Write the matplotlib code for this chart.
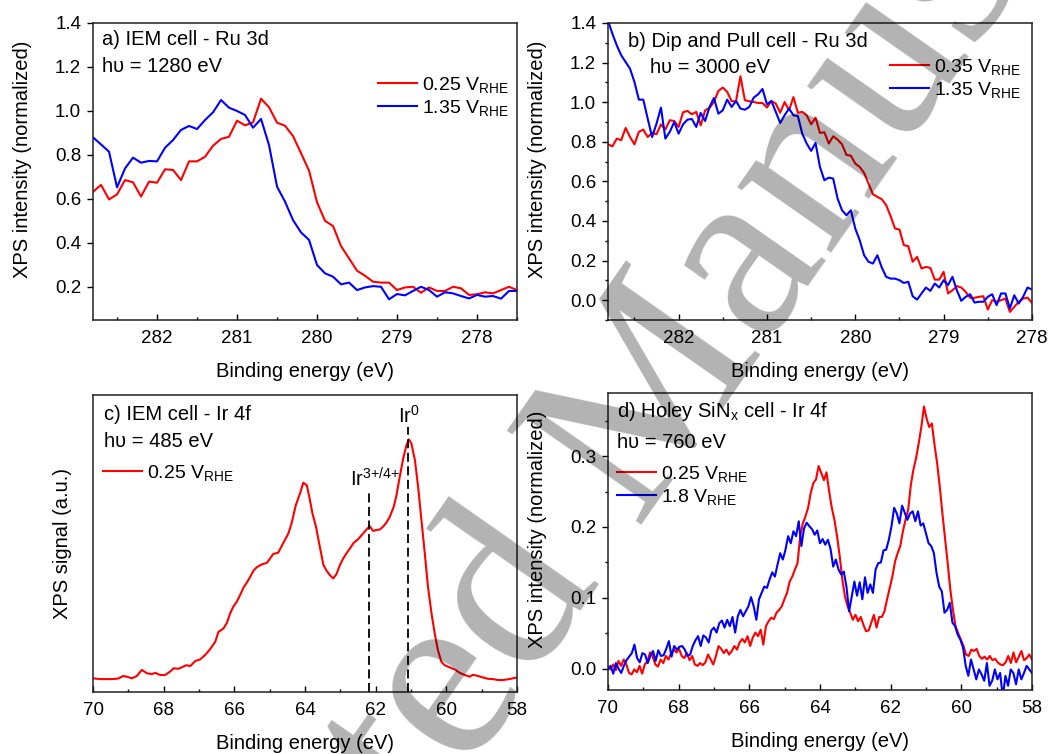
import numpy as np
import matplotlib
matplotlib.use("Agg")
import matplotlib.pyplot as plt
from matplotlib.ticker import MultipleLocator, FormatStrFormatter, NullLocator

plt.rcParams["font.family"] = ["Liberation Sans", "DejaVu Sans"]
plt.rcParams["mathtext.fontset"] = "custom"
plt.rcParams["mathtext.rm"] = "Liberation Sans"
plt.rcParams["mathtext.it"] = "Liberation Sans:italic"
plt.rcParams["mathtext.bf"] = "Liberation Sans:bold"

RED, BLUE = "#ff0000", "#0000ff"

# ---------------- data ----------------
# a) IEM cell - Ru 3d, 282.8 -> 277.5 eV, 0.1 eV steps
A_RANGE = (282.8, 277.5)
a_red = [0.633, 0.664, 0.598, 0.621, 0.686, 0.676, 0.611, 0.679, 0.674, 0.735,
         0.732, 0.686, 0.771, 0.771, 0.792, 0.842, 0.873, 0.883, 0.956, 0.935,
         0.948, 1.056, 1.017, 0.947, 0.933, 0.886, 0.808, 0.729, 0.585, 0.501,
         0.477, 0.386, 0.330, 0.274, 0.251, 0.224, 0.220, 0.220, 0.186, 0.198,
         0.201, 0.174, 0.198, 0.182, 0.182, 0.201, 0.194, 0.164, 0.167, 0.176,
         0.171, 0.186, 0.201, 0.186]
a_blue = [0.880, 0.848, 0.815, 0.653, 0.739, 0.788, 0.765, 0.773, 0.771, 0.833,
          0.868, 0.914, 0.932, 0.918, 0.959, 0.994, 1.050, 1.015, 1.000, 0.982,
          0.924, 0.964, 0.845, 0.656, 0.588, 0.504, 0.448, 0.414, 0.300, 0.262,
          0.247, 0.212, 0.220, 0.186, 0.198, 0.204, 0.201, 0.144, 0.168, 0.162,
          0.182, 0.201, 0.186, 0.156, 0.176, 0.171, 0.159, 0.148, 0.164, 0.156,
          0.159, 0.147, 0.182, 0.182]

# b) Dip and Pull cell - Ru 3d, 282.8 -> 278.0 eV, 0.05 eV steps
B_RANGE = (282.8, 278.0)
b_red = [0.787, 0.777, 0.816, 0.808, 0.870, 0.824, 0.787, 0.850, 0.862, 0.824,
         0.845, 0.838, 0.888, 0.862, 0.909, 0.905, 0.875, 0.949, 0.956, 0.939,
         0.951, 0.883, 0.959, 0.971, 1.001, 1.057, 1.074, 1.052, 1.005, 1.005,
         1.131, 1.010, 1.005, 1.001, 0.996, 0.996, 0.973, 1.006, 0.993, 0.947,
         1.001, 0.959, 1.026, 0.947, 0.951, 0.934, 0.888, 0.922, 0.845, 0.848,
         0.791, 0.828, 0.811, 0.787, 0.734, 0.730, 0.690, 0.673, 0.643, 0.589,
         0.535, 0.522, 0.510, 0.480, 0.424, 0.362, 0.357, 0.278, 0.273, 0.194,
         0.219, 0.160, 0.168, 0.163, 0.104, 0.104, 0.143, 0.034, 0.050, 0.071,
         0.064, 0.042, 0.012, 0.012, 0.017, 0.020, -0.047, 0.000, -0.008, 0.000,
         0.008, -0.059, -0.034, -0.008, 0.008, 0.013, -0.013]
b_blue = [1.413, 1.346, 1.287, 1.237, 1.203, 1.169, 1.102, 1.013, 1.013, 0.917,
          0.824, 0.892, 0.973, 0.816, 0.850, 0.900, 0.841, 0.888, 0.912, 0.915,
          0.875, 0.946, 0.905, 0.976, 1.021, 0.942, 0.959, 1.013, 0.976, 1.006,
          0.968, 0.962, 0.976, 1.023, 1.040, 1.067, 0.989, 1.006, 0.951, 0.895,
          0.934, 0.968, 0.934, 0.930, 0.841, 0.791, 0.754, 0.794, 0.673, 0.606,
          0.619, 0.614, 0.513, 0.454, 0.429, 0.454, 0.362, 0.303, 0.227, 0.194,
          0.185, 0.227, 0.165, 0.118, 0.109, 0.109, 0.101, 0.087, 0.093, 0.020,
          0.003, 0.034, 0.064, 0.047, 0.084, 0.064, 0.101, 0.076, 0.118, 0.050,
          -0.003, 0.017, 0.030, -0.012, -0.008, -0.008, 0.017, 0.030, -0.025, 0.034,
          0.034, -0.042, 0.025, -0.017, 0.017, 0.064, 0.054]

# c) IEM cell - Ir 4f (arbitrary units, baseline 0, Ir0 peak 1)
c_energy = [70.00, 69.79, 69.60, 69.42, 69.27, 69.15, 69.04, 68.90, 68.76, 68.62,
            68.47, 68.33, 68.24, 68.10, 67.96, 67.82, 67.72, 67.58, 67.49, 67.36,
            67.25, 67.11, 66.97, 66.83, 66.69, 66.54, 66.45, 66.31, 66.21, 66.12,
            66.03, 65.93, 65.84, 65.74, 65.65, 65.56, 65.46, 65.37, 65.23, 65.08,
            64.99, 64.90, 64.76, 64.66, 64.57, 64.47, 64.38, 64.26, 64.14, 64.05,
            63.95, 63.88, 63.79, 63.69, 63.60, 63.48, 63.39, 63.30, 63.20, 63.11,
            63.01, 62.92, 62.83, 62.73, 62.62, 62.50, 62.37, 62.26, 62.17, 62.07,
            61.98, 61.88, 61.79, 61.70, 61.60, 61.49, 61.41, 61.32, 61.22, 61.13,
            61.06, 60.99, 60.89, 60.80, 60.71, 60.61, 60.52, 60.42, 60.33, 60.24,
            60.14, 60.05, 59.91, 59.76, 59.62, 59.48, 59.34, 59.25, 59.11, 58.97,
            58.82, 58.68, 58.54, 58.40, 58.26, 58.12, 58.00]
c_red = [0.003, 0.000, 0.000, 0.000, 0.003, 0.013, 0.010, 0.003, 0.013, 0.038,
         0.024, 0.021, 0.026, 0.017, 0.017, 0.031, 0.045, 0.043, 0.049, 0.058,
         0.054, 0.075, 0.082, 0.100, 0.124, 0.156, 0.197, 0.211, 0.235, 0.274,
         0.302, 0.323, 0.350, 0.382, 0.402, 0.424, 0.452, 0.466, 0.478, 0.485,
         0.503, 0.522, 0.527, 0.555, 0.580, 0.608, 0.650, 0.726, 0.775, 0.819,
         0.809, 0.761, 0.691, 0.636, 0.566, 0.476, 0.452, 0.434, 0.420, 0.438,
         0.476, 0.503, 0.524, 0.545, 0.569, 0.583, 0.605, 0.624, 0.638, 0.618,
         0.622, 0.624, 0.636, 0.652, 0.677, 0.719, 0.768, 0.844, 0.921, 0.976,
         1.000, 0.983, 0.914, 0.803, 0.670, 0.524, 0.385, 0.274, 0.191, 0.121,
         0.072, 0.058, 0.049, 0.040, 0.026, 0.017, 0.010, 0.018, 0.013, 0.007,
         0.001, 0.000, -0.004, -0.004, -0.001, 0.003, 0.007]
IR_LINES = [62.18, 61.08]          # Ir3+/4+ and Ir0 positions (eV)
IR_TOPS = [0.789, 1.053]
IR_LABELS = ["Ir$^{\\mathregular{3{+}/4{+}}}$", "Ir$^{\\mathregular{0}}$"]
IR_LABEL_X = [62.02, 61.06]
IR_LABEL_Y = [0.805, 1.068]

# d) Holey SiNx cell - Ir 4f, 70 -> 58 eV
D_RANGE = (70.0, 58.0)
d_red = [0.003, -0.001, 0.006, -0.002, 0.011, 0.004, 0.013, 0.006, -0.006, -0.008,
         -0.001, -0.005, 0.004, -0.007, 0.006, 0.011, 0.023, 0.017, 0.006, 0.003,
         0.013, 0.008, 0.018, 0.013, 0.022, 0.027, 0.023, 0.028, 0.018, 0.015,
         0.022, 0.012, 0.018, 0.006, 0.004, 0.008, 0.005, 0.009, 0.020, 0.013,
         0.006, 0.018, 0.032, 0.028, 0.022, 0.027, 0.020, 0.025, 0.032, 0.027,
         0.037, 0.042, 0.037, 0.046, 0.032, 0.044, 0.051, 0.046, 0.055, 0.034,
         0.060, 0.067, 0.072, 0.070, 0.079, 0.083, 0.088, 0.098, 0.107, 0.123,
         0.130, 0.140, 0.149, 0.187, 0.205, 0.215, 0.227, 0.248, 0.262, 0.267,
         0.286, 0.276, 0.266, 0.277, 0.250, 0.227, 0.210, 0.187, 0.159, 0.126,
         0.102, 0.088, 0.079, 0.069, 0.076, 0.067, 0.073, 0.062, 0.053, 0.054,
         0.065, 0.076, 0.058, 0.073, 0.073, 0.081, 0.098, 0.114, 0.130, 0.151,
         0.163, 0.173, 0.194, 0.210, 0.224, 0.259, 0.281, 0.297, 0.318, 0.341,
         0.370, 0.353, 0.341, 0.346, 0.316, 0.290, 0.257, 0.219, 0.184, 0.149,
         0.112, 0.083, 0.060, 0.050, 0.041, 0.032, 0.020, 0.018, 0.027, 0.025,
         0.028, 0.018, 0.014, 0.017, 0.013, 0.018, 0.012, 0.014, 0.009, 0.006,
         0.005, 0.009, 0.018, 0.008, 0.023, 0.009, 0.017, 0.025, 0.012, 0.015,
         0.020, 0.013]
d_blue = [-0.001, 0.004, -0.007, 0.008, 0.000, -0.006, 0.004, 0.012, 0.017, 0.022,
          0.034, 0.015, 0.009, 0.022, 0.020, 0.008, 0.018, 0.025, 0.011, 0.026,
          0.018, 0.019, 0.028, 0.039, 0.017, 0.032, 0.027, 0.031, 0.032, 0.027,
          0.018, 0.020, 0.032, 0.040, 0.046, 0.032, 0.047, 0.044, 0.037, 0.054,
          0.058, 0.051, 0.064, 0.068, 0.058, 0.069, 0.060, 0.073, 0.051, 0.074,
          0.083, 0.074, 0.081, 0.088, 0.101, 0.088, 0.069, 0.098, 0.107, 0.116,
          0.114, 0.126, 0.136, 0.130, 0.147, 0.163, 0.154, 0.168, 0.187, 0.177,
          0.194, 0.187, 0.208, 0.173, 0.198, 0.206, 0.201, 0.197, 0.189, 0.195,
          0.177, 0.183, 0.175, 0.182, 0.169, 0.144, 0.154, 0.140, 0.133, 0.137,
          0.116, 0.081, 0.102, 0.123, 0.103, 0.122, 0.098, 0.129, 0.107, 0.119,
          0.107, 0.140, 0.149, 0.150, 0.167, 0.168, 0.182, 0.201, 0.227, 0.219,
          0.205, 0.230, 0.220, 0.210, 0.219, 0.222, 0.208, 0.222, 0.202, 0.205,
          0.191, 0.177, 0.173, 0.163, 0.135, 0.116, 0.109, 0.079, 0.083, 0.093,
          0.065, 0.060, 0.048, 0.041, 0.030, 0.004, -0.010, 0.013, -0.001, -0.015,
          -0.001, -0.008, -0.017, 0.008, -0.024, -0.017, -0.001, -0.015, -0.006, -0.040,
          -0.010, -0.024, -0.001, -0.006, -0.022, -0.001, -0.015, -0.006, 0.004, -0.001,
          -0.006]

LABEL_FS = 14.5
TICK_FS = 13.5


# ---------------- helpers ----------------
def style(ax, xlim, ylim, xmaj, xmin, ymaj=None, ymin=None, yfmt="%.1f"):
    ax.set_xlim(*xlim); ax.set_ylim(*ylim)
    ax.xaxis.set_major_locator(MultipleLocator(xmaj))
    ax.xaxis.set_minor_locator(MultipleLocator(xmin))
    ax.xaxis.set_major_formatter(FormatStrFormatter("%d"))
    ax.tick_params(axis="x", which="both", direction="in", top=False, pad=7,
                   labelsize=TICK_FS, width=1.0)
    ax.tick_params(axis="x", which="major", length=4.5)
    ax.tick_params(axis="x", which="minor", length=2.5)
    if ymaj is None:
        ax.yaxis.set_major_locator(NullLocator())
        ax.yaxis.set_minor_locator(NullLocator())
    else:
        ax.yaxis.set_major_locator(MultipleLocator(ymaj))
        ax.yaxis.set_major_formatter(FormatStrFormatter(yfmt))
        if ymin:
            ax.yaxis.set_minor_locator(MultipleLocator(ymin))
        else:
            ax.yaxis.set_minor_locator(NullLocator())
    ax.tick_params(axis="y", which="both", direction="out", right=False, pad=4,
                   labelsize=TICK_FS, width=1.0)
    ax.tick_params(axis="y", which="major", length=4.5)
    ax.tick_params(axis="y", which="minor", length=2.5)
    for s in ax.spines.values():
        s.set_linewidth(1.1); s.set_color("#222222")
    ax.set_xlabel("Binding energy (eV)", fontsize=LABEL_FS)
    ax.xaxis.set_label_coords(0.5, -0.14)
    ax.xaxis.label.set_va("top")


def legend(ax, x, y):
    ax.legend(loc="upper left", bbox_to_anchor=(x, y), frameon=False, fontsize=14,
              handlelength=2.0, handletextpad=0.25, labelspacing=0.15,
              borderpad=0, borderaxespad=0)


def note(ax, x, y, s):
    ax.text(x, y, s, transform=ax.transAxes, ha="left", va="baseline", fontsize=LABEL_FS)


fig = plt.figure(figsize=(10.5, 7.54), dpi=100)
axA = fig.add_axes([0.0886, 0.5756, 0.4038, 0.3939])
axB = fig.add_axes([0.5790, 0.5756, 0.4038, 0.3939])
axC = fig.add_axes([0.0886, 0.0822, 0.4038, 0.3939])
axD = fig.add_axes([0.5790, 0.0849, 0.4038, 0.3939])

# a
ea = np.linspace(A_RANGE[0], A_RANGE[1], len(a_red))
axA.plot(ea, a_red, color=RED, lw=1.5, label="0.25 V$_{\\mathregular{RHE}}$")
axA.plot(ea, a_blue, color=BLUE, lw=1.5, label="1.35 V$_{\\mathregular{RHE}}$")
style(axA, A_RANGE, (0.05, 1.4), 1, 0.5, 0.2)
axA.set_ylabel("XPS intensity (normalized)", fontsize=LABEL_FS)
axA.yaxis.set_label_coords(-0.143, 0.54)
note(axA, 0.021, 0.926, "a) IEM cell - Ru 3d")
note(axA, 0.021, 0.834, "h\u03c5 = 1280 eV")
legend(axA, 0.672, 0.826)

# b
eb = np.linspace(B_RANGE[0], B_RANGE[1], len(b_red))
axB.plot(eb, b_red, color=RED, lw=1.5, label="0.35 V$_{\\mathregular{RHE}}$")
axB.plot(eb, b_blue, color=BLUE, lw=1.5, label="1.35 V$_{\\mathregular{RHE}}$")
style(axB, B_RANGE, (-0.1, 1.4), 1, 0.5, 0.2, 0.1)
axB.set_ylabel("XPS intensity (normalized)", fontsize=LABEL_FS)
axB.yaxis.set_label_coords(-0.143, 0.54)
note(axB, 0.047, 0.920, "b) Dip and Pull cell - Ru 3d")
note(axB, 0.099, 0.831, "h\u03c5 = 3000 eV")
legend(axB, 0.665, 0.886)

# c
axC.plot(c_energy, c_red, color=RED, lw=1.5, label="0.25 V$_{\\mathregular{RHE}}$")
style(axC, (70, 58), (-0.054, 1.185), 2, 1)
axC.vlines(IR_LINES, -0.054, IR_TOPS, colors="black", lw=1.3, linestyles=(0, (5, 2.5)))
for x, y, s in zip(IR_LABEL_X, IR_LABEL_Y, IR_LABELS):
    axC.text(x, y, s, ha="center", va="baseline", fontsize=LABEL_FS)
axC.set_ylabel("XPS signal (a.u.)", fontsize=LABEL_FS)
axC.yaxis.set_label_coords(-0.05, 0.5)
note(axC, 0.026, 0.916, "c) IEM cell - Ir 4f")
note(axC, 0.026, 0.826, "h\u03c5 = 485 eV")
legend(axC, 0.024, 0.771)

# d
ed = np.linspace(D_RANGE[0], D_RANGE[1], len(d_red))
eb2 = np.linspace(D_RANGE[0], D_RANGE[1], len(d_blue))
axD.plot(ed, d_red, color=RED, lw=1.5, label="0.25 V$_{\\mathregular{RHE}}$")
axD.plot(eb2, d_blue, color=BLUE, lw=1.5, label="1.8 V$_{\\mathregular{RHE}}$")
style(axD, D_RANGE, (-0.03, 0.389), 2, 1, 0.1, 0.05)
axD.set_ylabel("XPS intensity (normalized)", fontsize=LABEL_FS)
axD.yaxis.set_label_coords(-0.143, 0.54)
note(axD, 0.021, 0.920, "d) Holey SiN$_{\\mathregular{x}}$ cell - Ir 4f")
note(axD, 0.021, 0.816, "h\u03c5 = 760 eV")
legend(axD, 0.021, 0.761)

# "Accepted Manuscript" watermark
fig.text(626 / 1050, 1 - 441 / 754, "Accepted Manuscript", rotation=55,
         rotation_mode="anchor", ha="center", va="center", fontsize=180,
         family=["Liberation Serif", "DejaVu Serif"], color="black", alpha=0.3, zorder=10)

fig.savefig("out.png", dpi=100)
